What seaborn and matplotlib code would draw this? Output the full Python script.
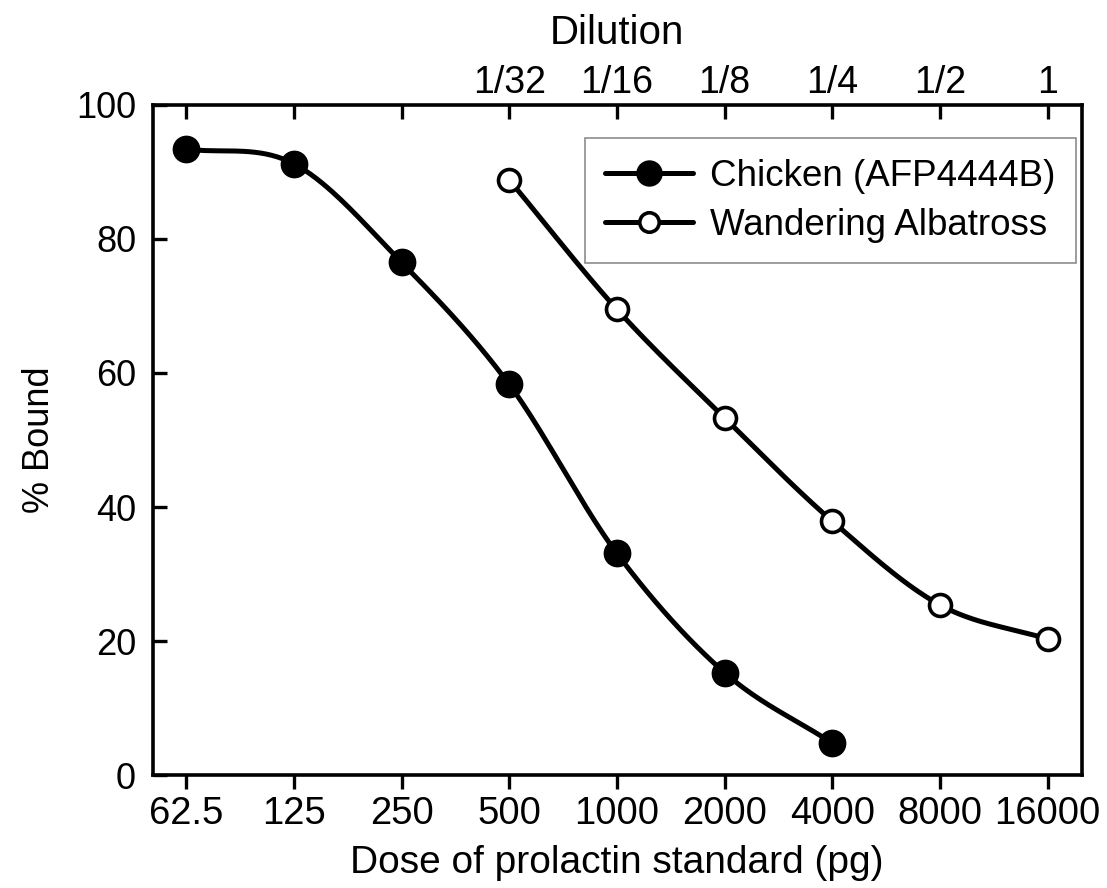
import numpy as np
import matplotlib
matplotlib.use("Agg")
import matplotlib.pyplot as plt
import seaborn as sns
from matplotlib.lines import Line2D

dose = [62.5, 125, 250, 500, 1000, 2000, 4000, 8000, 16000]
dose_labels = ["62.5", "125", "250", "500", "1000", "2000", "4000", "8000", "16000"]
dilution_labels = ["", "", "", "1/32", "1/16", "1/8", "1/4", "1/2", "1"]

chicken_dose = [62.5, 125, 250, 500, 1000, 2000, 4000]
chicken_bound = [93.4, 91.2, 76.5, 58.3, 33.1, 15.3, 4.8]

albatross_dose = [500, 1000, 2000, 4000, 8000, 16000]
albatross_bound = [88.8, 69.5, 53.3, 37.9, 25.4, 20.3]


def smooth(xs, ys, n=40):
    # cubic hermite through the points, evenly spaced in log2(dose)
    t = np.log2(xs)
    y = np.asarray(ys, float)
    m = np.gradient(y, t)
    tt, yy = [], []
    for i in range(len(t) - 1):
        h = t[i + 1] - t[i]
        s = np.linspace(0, 1, n)
        h00 = 2 * s**3 - 3 * s**2 + 1
        h10 = s**3 - 2 * s**2 + s
        h01 = -2 * s**3 + 3 * s**2
        h11 = s**3 - s**2
        tt.append(t[i] + s * h)
        yy.append(h00 * y[i] + h10 * h * m[i] + h01 * y[i + 1] + h11 * h * m[i + 1])
    return 2 ** np.concatenate(tt), np.concatenate(yy)


sns.set_theme(style="white", rc={"text.color": "black", "axes.labelcolor": "black",
                                 "xtick.color": "black", "ytick.color": "black"})
plt.rcParams["font.family"] = ["Liberation Sans", "DejaVu Sans"]

fig = plt.figure(figsize=(11.07, 8.88), dpi=100)
ax = fig.add_axes([0.138, 0.127, 0.839, 0.755])

for xs, ys, face in [(chicken_dose, chicken_bound, "black"),
                     (albatross_dose, albatross_bound, "white")]:
    sx, sy = smooth(xs, ys)
    sns.lineplot(x=sx, y=sy, ax=ax, color="black", linewidth=3.6, sort=False)
    sns.scatterplot(x=xs, y=ys, ax=ax, s=360 if face == "black" else 250,
                    color=face, edgecolor="black", linewidth=2.6 if face == "white" else 1,
                    zorder=5)

ax.set_xscale("log", base=2)
ax.set_xlim(62.5 * 2 ** -0.31, 16000 * 2 ** 0.315)
ax.set_ylim(0, 100)
ax.set_xticks(dose)
ax.set_xticklabels(dose_labels)
ax.minorticks_off()
ax.set_yticks([0, 20, 40, 60, 80, 100])

for sp in ax.spines.values():
    sp.set_linewidth(2.6)
    sp.set_color("black")

ax.tick_params(axis="x", direction="out", length=10, width=2.4, labelsize=27.5, pad=5,
               bottom=True)
ax.tick_params(axis="y", direction="in", length=10, width=2.4, labelsize=26, pad=12,
               left=True)

top = ax.secondary_xaxis("top")
top.set_xticks(dose)
top.set_xticklabels(dilution_labels)
top.minorticks_off()
top.tick_params(direction="in", length=10, width=2.4, labelsize=27, pad=3)
top.set_xlabel("Dilution", fontsize=29, labelpad=15)

ax.set_xlabel("Dose of prolactin standard (pg)", fontsize=28, labelpad=9)
ax.set_ylabel("% Bound", fontsize=26, labelpad=14)

handles = [
    Line2D([], [], color="black", lw=3.6, marker="o", markersize=18,
           markerfacecolor="black", markeredgecolor="black"),
    Line2D([], [], color="black", lw=3.6, marker="o", markersize=14,
           markerfacecolor="white", markeredgecolor="black", markeredgewidth=2.6),
]
leg = ax.legend(handles, ["Chicken (AFP4444B)", "Wandering Albatross"],
                loc="upper right", bbox_to_anchor=(0.9935, 0.95), fontsize=26.5,
                frameon=True, fancybox=False, edgecolor="#707070",
                handlelength=2.4, handletextpad=0.45, borderpad=0.55, labelspacing=0.38,
                borderaxespad=0)
leg.get_frame().set_linewidth(1.2)

fig.savefig("out.png", dpi=100)
